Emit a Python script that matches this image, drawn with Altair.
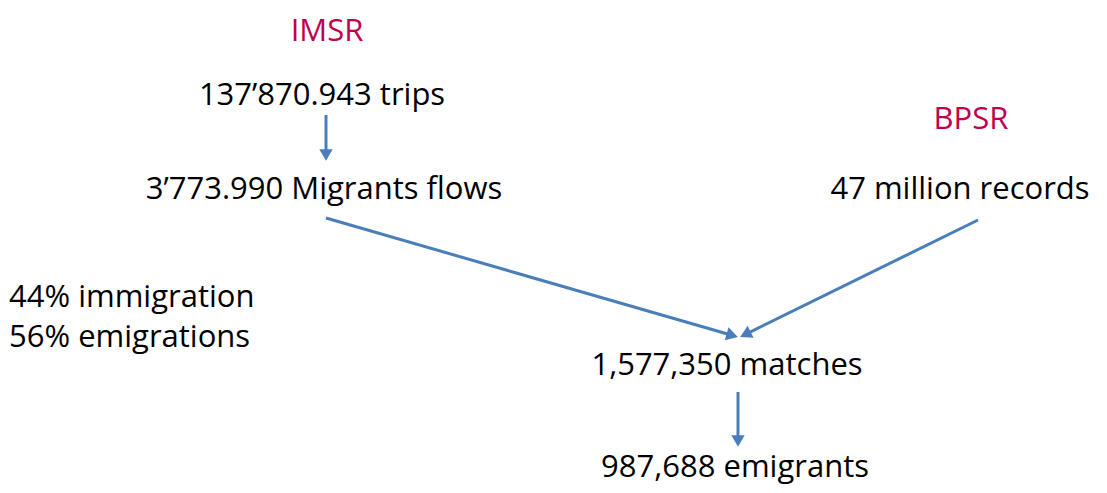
import altair as alt
import pandas as pd
import numpy as np

# Text labels of the diagram
labels = ["IMSR", "137’870.943 trips", "3’773.990 Migrants flows", "BPSR",
          "47 million records", "1,577,350 matches", "987,688 emigrants"]
label_x = [327, 322, 324, 971, 960, 727, 735]
label_y = [32, 96, 190, 120, 190, 366, 468]
label_kind = ["source", "node", "node", "source", "node", "node", "node"]

side_labels = ["44% immigration", "56% emigrations"]
side_x = [9, 9]
side_y = [298, 338]

# Arrows (from -> to)
arrow_x1 = [326, 326, 978, 738]
arrow_y1 = [115, 218, 220, 392]
arrow_x2 = [326, 738, 740, 738]
arrow_y2 = [161, 337, 337, 447]

text_df = pd.DataFrame({"label": labels, "x": label_x, "y": label_y, "kind": label_kind})
side_df = pd.DataFrame({"label": side_labels, "x": side_x, "y": side_y})
arr_df = pd.DataFrame({"x1": arrow_x1, "y1": arrow_y1, "x2": arrow_x2, "y2": arrow_y2})
dx = arr_df.x2 - arr_df.x1
dy = arr_df.y2 - arr_df.y1
arr_df["angle"] = (np.degrees(np.arctan2(dx, -dy)) + 360) % 360
L = np.hypot(dx, dy)
arr_df["x2s"] = arr_df.x2 - dx / L * 9
arr_df["y2s"] = arr_df.y2 - dy / L * 9
arr_df["hx"] = arr_df.x2 - dx / L * 6
arr_df["hy"] = arr_df.y2 - dy / L * 6

xs = alt.Scale(domain=[8, 1099], nice=False, zero=False)
ys = alt.Scale(domain=[8, 485], nice=False, zero=False, reverse=True)
ARROW = "#4A7EBB"
FONT = "Open Sans"

lines = alt.Chart(arr_df).mark_rule(color=ARROW, strokeWidth=3).encode(
    x=alt.X("x1:Q", scale=xs, axis=None),
    y=alt.Y("y1:Q", scale=ys, axis=None),
    x2="x2s:Q", y2="y2s:Q",
)
heads = alt.Chart(arr_df).mark_point(shape="triangle-up", filled=True, color=ARROW,
                                     opacity=1, size=180).encode(
    x=alt.X("hx:Q", scale=xs, axis=None),
    y=alt.Y("hy:Q", scale=ys, axis=None),
    angle=alt.Angle("angle:Q", scale=None),
)
texts = alt.Chart(text_df).mark_text(font=FONT, fontSize=31, align="center",
                                     baseline="middle").encode(
    x=alt.X("x:Q", scale=xs, axis=None),
    y=alt.Y("y:Q", scale=ys, axis=None),
    text="label:N",
    color=alt.Color("kind:N", scale=alt.Scale(domain=["source", "node"],
                                              range=["#C0004E", "#000000"]), legend=None),
)
side = alt.Chart(side_df).mark_text(font=FONT, fontSize=31, align="left",
                                    baseline="middle", color="#000000").encode(
    x=alt.X("x:Q", scale=xs, axis=None),
    y=alt.Y("y:Q", scale=ys, axis=None),
    text="label:N",
)

chart = alt.layer(lines, heads, texts, side).properties(
    width=1091, height=477, padding=0,
    autosize=alt.AutoSizeParams(type="fit", contains="padding"),
).configure_view(stroke=None)

chart.save("out.html", embed_options={"renderer": "svg", "actions": False})
